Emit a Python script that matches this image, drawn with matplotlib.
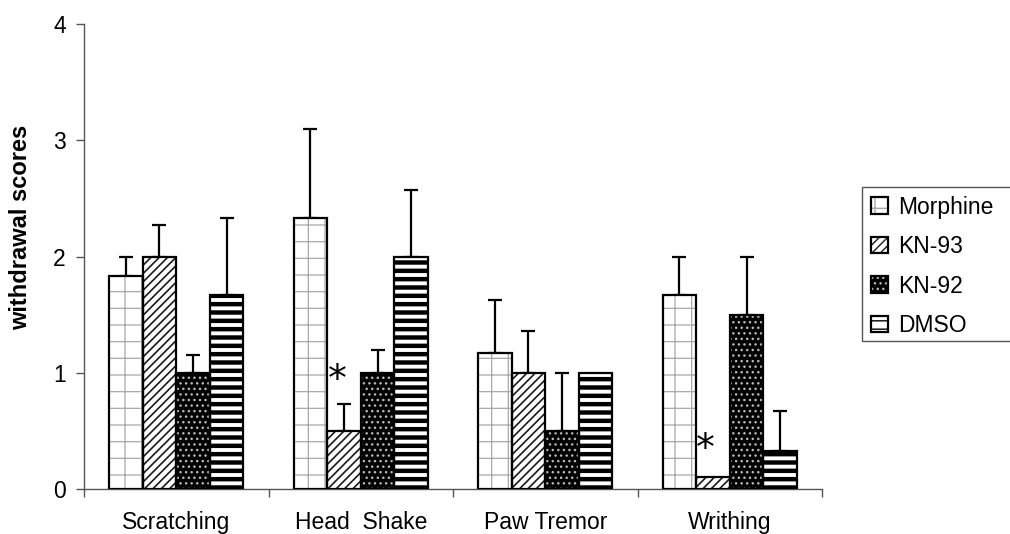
import numpy as np
import matplotlib
matplotlib.use('Agg')
import matplotlib.pyplot as plt
from matplotlib.patches import Rectangle

plt.rcParams['font.family'] = ['Liberation Sans', 'DejaVu Sans']

# Dados
categorias = ['Scratching', 'Head  Shake', 'Paw Tremor', 'Writhing']
grupos = ['Morphine', 'KN-93', 'KN-92', 'DMSO']
medias = {
    'Morphine': [1.83, 2.33, 1.17, 1.67],
    'KN-93': [2.0, 0.5, 1.0, 0.1],
    'KN-92': [1.0, 1.0, 0.5, 1.5],
    'DMSO': [1.67, 2.0, 1.0, 0.33],
}
erros = {
    'Morphine': [0.17, 0.77, 0.46, 0.33],
    'KN-93': [0.27, 0.23, 0.36, np.nan],
    'KN-92': [0.15, 0.2, 0.5, 0.5],
    'DMSO': [0.66, 0.57, np.nan, 0.34],
}
# asteriscos: (x, y) em coordenadas de dados, ao lado das barras KN-93
ast_x = [1.371, 3.37]
ast_y = [0.845, 0.25]

estilos = {
    'Morphine': dict(face='white', hatch='+', hcolor='#a8a8a8', hlw=0.9),
    'KN-93': dict(face='white', hatch='////', hcolor='#1a1a1a', hlw=1.2),
    'KN-92': dict(face='black', hatch='...', hcolor='#b8b8b8', hlw=1.0),
    'DMSO': dict(face='white', hatch='--', hcolor='black', hlw=3.2),
}

fig = plt.figure(figsize=(10.1, 5.34), dpi=100)
ax = fig.add_axes([84 / 1010, 1 - 489 / 534, (822 - 84) / 1010, (489 - 24) / 534])

largura = 0.182
x = np.arange(len(categorias)) + 0.5
handles = []
for i, g in enumerate(grupos):
    est = estilos[g]
    pos = x + (i - 1.5) * largura
    with plt.rc_context({'hatch.linewidth': est['hlw']}):
        fundo = ax.bar(pos, medias[g], largura, color=est['face'], edgecolor=est['hcolor'],
                       hatch=est['hatch'], linewidth=0, zorder=2)
        for p in fundo:
            if hasattr(p, 'set_hatch_linewidth'):
                p.set_hatch_linewidth(est['hlw'])
    borda = ax.bar(pos, medias[g], largura, facecolor='none', edgecolor='black',
                   linewidth=1.6, zorder=3)
    err = np.array(erros[g])
    ok = ~np.isnan(err)
    ax.errorbar(pos[ok], np.array(medias[g])[ok], yerr=[np.zeros(ok.sum()), err[ok]],
                fmt='none', ecolor='black', elinewidth=1.6, capsize=5, capthick=1.6, zorder=1)
    handles.append((fundo[0], borda[0]))

for xa, ya in zip(ast_x, ast_y):
    ax.text(xa, ya, '*', fontsize=27, ha='center', va='baseline', family='DejaVu Sans')

ax.set_xlim(0, 4)
ax.set_ylim(0, 4)
ax.set_yticks([0, 1, 2, 3, 4])
ax.set_xticks([0, 1, 2, 3, 4])
ax.set_xticklabels([])
ax.set_xticks(x, minor=True)
ax.set_xticklabels(categorias, minor=True)
ax.tick_params(axis='x', which='minor', length=0, labelsize=16.5, pad=16)
ax.tick_params(axis='x', which='major', length=6, width=1, color='#555555', direction='out')
ax.tick_params(axis='y', length=6, width=1, color='#555555', labelsize=16.5, pad=7)
for s in ['top', 'right']:
    ax.spines[s].set_visible(False)
for s in ['left', 'bottom']:
    ax.spines[s].set_color('#555555')
    ax.spines[s].set_linewidth(1)
ax.set_ylabel('withdrawal scores', fontsize=17, fontweight='bold')
ax.yaxis.set_label_coords(-0.0705, 0.563)

# moldura da legenda (sai pela borda direita, como no original)
fig.patches.append(Rectangle((862 / 1010, 1 - 341 / 534), 0.2, (341 - 187) / 534,
                             transform=fig.transFigure, facecolor='white',
                             edgecolor='#555555', linewidth=1, zorder=0))
leg = fig.legend(handles, grupos, loc='upper left', bbox_to_anchor=(866 / 1010, 1 - 191 / 534),
                 fontsize=16.5, frameon=False,
                 handlelength=0.75, handleheight=0.75, handletextpad=0.45, labelspacing=0.72,
                 borderpad=0.2, borderaxespad=0)

fig.savefig('out.png', dpi=100)
